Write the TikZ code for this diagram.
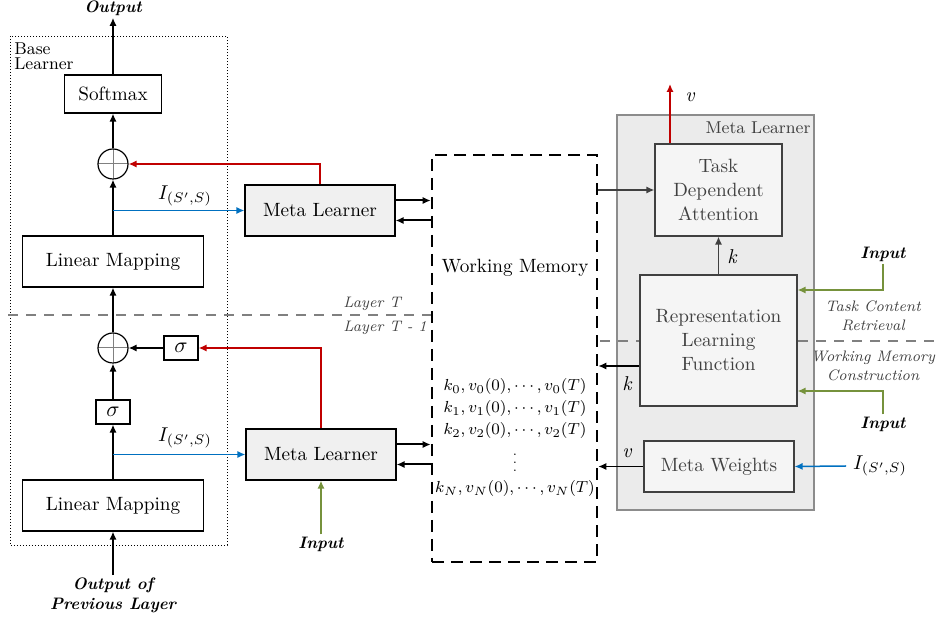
\documentclass[tikz,border=0pt]{standalone}
\usetikzlibrary{arrows.meta}
\definecolor{mlred}{RGB}{192,0,0}
\definecolor{mlblue}{RGB}{0,112,192}
\definecolor{mlgreen}{RGB}{118,146,60}
\definecolor{mldark}{RGB}{64,64,64}
\definecolor{mlpanel}{RGB}{235,235,235}
\begin{document}
\begin{tikzpicture}[x=.5pt,y=-.5pt,>={Latex[length=4pt,width=3.6pt]},
    box/.style={draw,line width=.6pt,inner sep=0pt,align=center,font=\fontsize{9.6}{12}\selectfont},
    mlbox/.style={box,fill=black!6,minimum width=75pt,minimum height=25.5pt},
    inbox/.style={box,draw=mldark,text=mldark,fill=black!4},
    plus/.style={circle,draw,line width=.6pt,minimum size=15pt,inner sep=0pt,
      path picture={\draw[gray,line width=.5pt] (path picture bounding box.north) -- (path picture bounding box.south)
        (path picture bounding box.west) -- (path picture bounding box.east);}},
    sig/.style={box,minimum width=17pt,minimum height=12pt,font=\fontsize{11}{12}\selectfont},
    lbl/.style={font=\fontsize{8.3}{10}\selectfont\bfseries\itshape,align=center,inner sep=1pt},
    note/.style={font=\fontsize{7.6}{9.5}\selectfont\itshape,text=mldark,align=center,inner sep=0pt},
    memline/.style={font=\fontsize{8.3}{10}\selectfont,inner sep=0pt},
    flow/.style={->,line width=1pt},
    thin/.style={->,line width=.75pt}]
  \useasboundingbox (0,0) rectangle (938,619);
  % ------ Base Learner -----------------
  \draw [line width=.4pt,dash pattern=on .6pt off .9pt] (10,36) rectangle (227,545);
  \node [anchor=north west,align=left,inner sep=0pt,font=\fontsize{8.6}{7.5}\selectfont] (base) at (14,42) {Base\\Learner};
  \node [box,minimum width=48.5pt,minimum height=19pt] (soft) at (113,94) {Softmax};
  \node [plus] (plusT) at (113,164) {};
  \node [box,minimum width=90.5pt,minimum height=25.5pt] (linT) at (113,261.5) {Linear Mapping};
  \node [plus] (plusB) at (113,348) {};
  \node [sig] (sigR) at (181,348) {$\sigma$};
  \node [sig] (sigB) at (113,412) {$\sigma$};
  \node [box,minimum width=90.5pt,minimum height=25.5pt] (linB) at (113,505.5) {Linear Mapping};
  \node [lbl] (out) at (113,8) {Output};
  \node [lbl] (prev) at (113,595) {Output of\\Previous Layer};
  \draw [flow] (soft.north) -- (out.south);
  \draw [flow] (plusT.north) -- (soft.south);
  \draw [flow] (linT.north) -- (plusT.south);
  \draw [flow] (plusB.north) -- (linT.south);
  \draw [flow] (sigR.west) -- (plusB.east);
  \draw [flow] (sigB.north) -- (plusB.south);
  \draw [flow] (linB.north) -- (sigB.south);
  \draw [flow] (prev.north) -- (linB.south);
  % ------ Meta Learners & Working Memory -----------------
  \node [mlbox] (mlT) at (320,210.5) {Meta Learner};
  \node [mlbox] (mlB) at (321,454.5) {Meta Learner};
  \node [lbl] (inB) at (321,544) {Input};
  \node [font=\fontsize{10}{12}\selectfont] (iT) at (185,196) {$I_{(S',S)}$};
  \node [font=\fontsize{10}{12}\selectfont] (iB) at (185,438) {$I_{(S',S)}$};
  \draw [thin,mlblue] (linT.north |- mlT.west) -- (mlT.west);
  \draw [thin,mlblue] (linB.north |- mlB.west) -- (mlB.west);
  \draw [thin,mlred] (mlT.north) |- (plusT.east);
  \draw [thin,mlred] (mlB.north) |- (sigR.east);
  \draw [thin,mlgreen] (inB.north) -- (mlB.south);
  \draw [gray,dash pattern=on 5pt off 4pt,line width=.7pt] (8,315) -- (432,315);
  \node [note,anchor=west] (layT) at (343,304) {Layer T};
  \node [note,anchor=west] (layB) at (343,328) {Layer T - 1};
  \node [draw,line width=1.3pt,dash pattern=on 6pt off 3.5pt,minimum width=82.5pt,minimum height=203.5pt] (wm) at (514.5,358.5) {};
  \node [font=\fontsize{9.6}{12}\selectfont] (wmt) at (515,268) {Working Memory};
  \node [memline] (m0) at (515,387) {$k_0, v_0(0), \cdots, v_0(T)$};
  \node [memline] (m1) at (515,409) {$k_1, v_1(0), \cdots, v_1(T)$};
  \node [memline] (m2) at (515,431) {$k_2, v_2(0), \cdots, v_2(T)$};
  \node [font=\fontsize{6.5}{7}\selectfont,inner sep=0pt] (md) at (515,472) {\smash{$\vdots$}};
  \node [memline] (mN) at (515,489) {$k_N, v_N(0), \cdots, v_N(T)$};
  \draw [flow] ([yshift=5pt]mlT.east) -- ([yshift=5pt]mlT.east -| wm.west);
  \draw [flow] ([yshift=-5pt]mlT.east -| wm.west) -- ([yshift=-5pt]mlT.east);
  \draw [flow] ([yshift=5pt]mlB.east) -- ([yshift=5pt]mlB.east -| wm.west);
  \draw [flow] ([yshift=-5pt]mlB.east -| wm.west) -- ([yshift=-5pt]mlB.east);
  % ------ Meta Learner (detail) -----------------
  \node [draw=black!45,line width=.6pt,fill=mlpanel,minimum width=98.5pt,minimum height=197.5pt] (panel) at (715.5,312.5) {};
  \node [text=mldark,font=\fontsize{8.6}{11}\selectfont] (pant) at (758,128) {Meta Learner};
  \draw [gray,dash pattern=on 5pt off 4pt,line width=.7pt] (600,341) -- (935,341);
  \node [inbox,minimum width=63.5pt,minimum height=46pt] (tda) at (718.5,190) {Task\\Dependent\\Attention};
  \node [inbox,minimum width=78.5pt,minimum height=65.5pt] (rlf) at (718.5,340.5) {Representation\\Learning\\Function};
  \node [inbox,minimum width=75pt,minimum height=25.5pt] (mw) at (719,466.5) {Meta Weights};
  \node [font=\fontsize{10}{12}\selectfont\itshape] (vT) at (690,97) {v};
  \coordinate (vtop) at (670,84);
  \draw [thin,mlred] (vtop |- tda.north) -- (vtop);
  \draw [thin,mldark] (wm.east |- tda.west) -- (tda.west);
  \draw [thin,mldark] (rlf.north) -- (tda.south);
  \node [font=\fontsize{10}{12}\selectfont\itshape] (kT) at (732,257) {k};
  \draw [thin,black] ([yshift=-12.75pt]rlf.west) -- ([yshift=-12.75pt]rlf.west -| wm.east);
  \node [font=\fontsize{10}{12}\selectfont\itshape] (kL) at (627,384) {k};
  \draw [thin,black] (mw.west) -- (mw.west -| wm.east);
  \node [font=\fontsize{10}{12}\selectfont\itshape] (vL) at (627,453) {v};
  \node [lbl] (inU) at (883,254) {Input};
  \node [lbl] (inL) at (883,424) {Input};
  \draw [thin,mlgreen] (inU.south) |- ([yshift=25.25pt]rlf.east);
  \draw [thin,mlgreen] (inL.north) |- ([yshift=-25.25pt]rlf.east);
  \node [note] (tcr) at (873,316) {Task Content\\Retrieval};
  \node [note] (wmc) at (873,366) {Working Memory\\Construction};
  \node [font=\fontsize{10}{12}\selectfont] (iR) at (880,466) {$I_{(S',S)}$};
  \draw [thin,mlblue] (iR.west) -- (mw.east);
\end{tikzpicture}
\end{document}
